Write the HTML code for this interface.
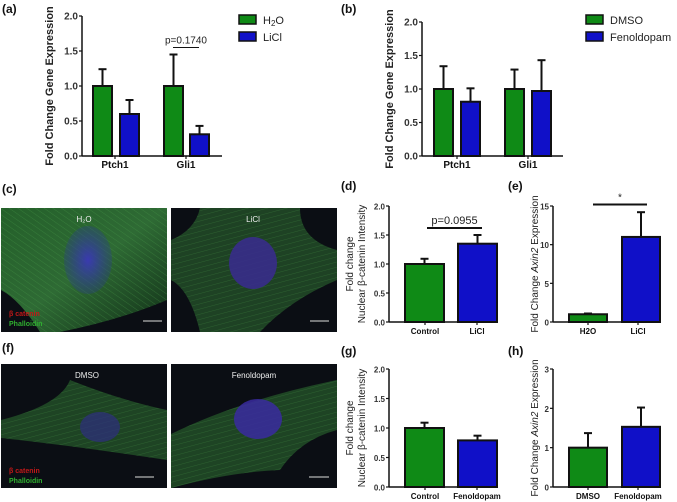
<!DOCTYPE html>
<html><head><meta charset="utf-8"><style>
body{margin:0;background:#fff;width:677px;height:502px;overflow:hidden;font-family:"Liberation Sans",Arial,sans-serif}
svg{position:absolute;left:0;top:0}
</style></head><body>
<svg id="fig" width="677" height="502">
<defs>
<radialGradient id="nuc1"><stop offset="0" stop-color="#3a3ab0"/><stop offset="1" stop-color="#2a3a90" stop-opacity="0.3"/></radialGradient>
<linearGradient id="cell1" x1="0" y1="0" x2="1" y2="1"><stop offset="0" stop-color="#24602a"/><stop offset="0.5" stop-color="#2e6a34"/><stop offset="1" stop-color="#123018"/></linearGradient>
<pattern id="fib" width="5" height="5" patternUnits="userSpaceOnUse" patternTransform="rotate(35)"><line x1="0" y1="0" x2="5" y2="0" stroke="#4aa04a" stroke-width="0.8" opacity="0.5"/></pattern>
<pattern id="fib2" width="5" height="5" patternUnits="userSpaceOnUse" patternTransform="rotate(-15)"><line x1="0" y1="0" x2="5" y2="0" stroke="#4aa04a" stroke-width="0.8" opacity="0.4"/></pattern>
</defs>
<g>
<rect x="1" y="208" width="166" height="124" fill="#0b0e14"/>
<path d="M1 208 H167 V300 Q120 320 60 332 H40 Q20 300 1 290 Z" fill="url(#cell1)"/>
<path d="M1 208 H167 V300 Q120 320 60 332 H40 Q20 300 1 290 Z" fill="url(#fib)"/>
<ellipse cx="88" cy="260" rx="24" ry="34" fill="url(#nuc1)"/>
<text x="84" y="222" fill="#eee" font-size="8" text-anchor="middle">H₂O</text>
<text x="9" y="316" fill="#c01818" font-size="7" font-weight="bold">β catenin</text>
<text x="9" y="326" fill="#30b030" font-size="7" font-weight="bold">Phalloidin</text>
<line x1="143" y1="321" x2="162" y2="321" stroke="#ddd" stroke-width="1"/>
</g>
<g>
<rect x="171" y="208" width="166" height="124" fill="#0b0e14"/>
<path d="M200 208 H300 Q300 240 337 250 V280 Q290 300 260 332 H200 Q190 290 171 280 V240 Q195 230 200 208 Z" fill="#1e4224"/>
<path d="M200 208 H300 Q300 240 337 250 V280 Q290 300 260 332 H200 Q190 290 171 280 V240 Q195 230 200 208 Z" fill="url(#fib2)"/>
<ellipse cx="253" cy="263" rx="24" ry="26" fill="#3a2a90" opacity="0.85"/>
<text x="253" y="222" fill="#eee" font-size="8" text-anchor="middle">LiCl</text>
<line x1="310" y1="321" x2="329" y2="321" stroke="#ddd" stroke-width="1"/>
</g>
<g>
<rect x="1" y="364" width="166" height="124" fill="#0b0e14"/>
<path d="M1 420 Q60 405 70 380 Q120 400 167 410 V460 Q100 450 60 445 Q20 440 1 438 Z" fill="#1e4424"/>
<path d="M1 420 Q60 405 70 380 Q120 400 167 410 V460 Q100 450 60 445 Q20 440 1 438 Z" fill="url(#fib2)"/>
<ellipse cx="100" cy="427" rx="20" ry="15" fill="#2e2e80" opacity="0.7"/>
<text x="87" y="378" fill="#eee" font-size="8" text-anchor="middle">DMSO</text>
<text x="9" y="473" fill="#c01818" font-size="7" font-weight="bold">β catenin</text>
<text x="9" y="483" fill="#30b030" font-size="7" font-weight="bold">Phalloidin</text>
<line x1="135" y1="477" x2="154" y2="477" stroke="#ddd" stroke-width="1"/>
</g>
<g>
<rect x="171" y="364" width="166" height="124" fill="#0b0e14"/>
<path d="M171 434 Q240 400 337 380 V430 Q300 440 280 470 Q230 472 171 488 Z" fill="#1e4424"/>
<path d="M171 434 Q240 400 337 380 V430 Q300 440 280 470 Q230 472 171 488 Z" fill="url(#fib2)"/>
<ellipse cx="258" cy="419" rx="24" ry="20" fill="#3a2aa0" opacity="0.85"/>
<text x="254" y="378" fill="#eee" font-size="8" text-anchor="middle">Fenoldopam</text>
<line x1="309" y1="477" x2="329" y2="477" stroke="#ddd" stroke-width="1"/>
</g>
<g font-weight="bold" font-size="12" fill="#111">
<text x="2" y="13">(a)</text>
<text x="341" y="13">(b)</text>
<text x="2" y="193">(c)</text>
<text x="341" y="190">(d)</text>
<text x="508" y="190">(e)</text>
<text x="2" y="352">(f)</text>
<text x="341" y="355">(g)</text>
<text x="508" y="355">(h)</text>
</g>
</svg>
<script>
const GREEN='#0f8a16', BLUE='#1010c8';
const aCategories=['Ptch1','Gli1'];
const aH2O=[1.0,1.0], aH2OErr=[0.24,0.45];
const aLiCl=[0.6,0.31], aLiClErr=[0.2,0.12];
const aTicks=['0.0','0.5','1.0','1.5','2.0'];
const bCategories=['Ptch1','Gli1'];
const bDMSO=[1.0,1.0], bDMSOErr=[0.34,0.29];
const bFen=[0.81,0.97], bFenErr=[0.2,0.46];
const bTicks=['0.0','0.5','1.0','1.5','2.0'];
const dCategories=['Control','LiCl'];
const dValues=[1.0,1.35], dErr=[0.09,0.15];
const dTicks=['0.0','0.5','1.0','1.5','2.0'];
const eCategories=['H2O','LiCl'];
const eValues=[1.0,11.0], eErr=[0.1,3.2];
const eTicks=['0','5','10','15'];
const gCategories=['Control','Fenoldopam'];
const gValues=[1.0,0.79], gErr=[0.09,0.08];
const gTicks=['0.0','0.5','1.0','1.5','2.0'];
const hCategories=['DMSO','Fenoldopam'];
const hValues=[1.0,1.53], hErr=[0.37,0.49];
const hTicks=['0','1','2','3'];

const svg=document.getElementById('fig');
const NS='http://www.w3.org/2000/svg';
function mk(tag,at,parent){const e=document.createElementNS(NS,tag);for(const k in at)e.setAttribute(k,at[k]);(parent||svg).appendChild(e);return e;}

function chart(p){
  const g=mk('g',{});
  
  
  const max=parseFloat(p.ticks[p.ticks.length-1]);
  const y=v=>p.y0-(v/max)*(p.y0-p.yTop);
  p.series.forEach(s=>{
    s.vals.forEach((v,i)=>{
      const x0=s.xs[i], w=s.w;
      const top=y(v+s.err[i]);
      const col=s.colors?s.colors[i]:s.color;
      const el=mk('line',{x1:x0+w/2,x2:x0+w/2,y1:y(v),y2:top,stroke:'#111','stroke-width':2},g);
      
      
      const cap=mk('line',{x1:x0+w/2-4,x2:x0+w/2+4,y1:top,y2:top,stroke:'#111','stroke-width':2},g);
      
      
      const r=mk('rect',{x:x0,y:y(v),width:w,height:p.y0-y(v),fill:col,stroke:'#111','stroke-width':2},g);
      
      
    });
  });
  const ya=mk('line',{x1:p.ax,x2:p.ax,y1:p.yTop,y2:p.y0,stroke:'#111','stroke-width':1.5},g);
  
  
  const xa=mk('line',{x1:p.ax,x2:p.xEnd,y1:p.y0,y2:p.y0,stroke:'#111','stroke-width':1.5},g);
  
  
  p.ticks.forEach(t=>{
    const yy=y(parseFloat(t));
    mk('line',{x1:p.ax-3,x2:p.ax,y1:yy,y2:yy,stroke:'#111','stroke-width':1.2},g);
    const tx=mk('text',{x:p.ax-4,y:yy+3.5,'text-anchor':'end','font-size':p.fs||10,'font-weight':'bold',fill:'#333'},g);
    tx.textContent=t;
    
    
  });
  p.cats.forEach((c,i)=>{
    const cx=p.catX[i];
    mk('line',{x1:cx,x2:cx,y1:p.y0,y2:p.y0+3,stroke:'#111','stroke-width':1.2},g);
    const tx=mk('text',{x:cx,y:p.y0+12,'text-anchor':'middle','font-size':p.fs||10,'font-weight':'bold',fill:'#111'},g);
    tx.textContent=c;
    
    
  });
  p.titles.forEach(t=>{
    const tx=mk('text',{x:0,y:0,transform:`translate(${t.x},${(p.y0+p.yTop)/2}) rotate(-90)`,'text-anchor':'middle','font-size':t.fs||11,'font-weight':t.bold?'bold':'normal',fill:'#222'},g);
    tx.innerHTML=t.html;
    
    
  });
  if(p.sig){
    const s=p.sig, yy=y(s.v);
    mk('line',{x1:s.x1,x2:s.x2,y1:yy,y2:yy,stroke:'#111','stroke-width':s.w||1},g);
    const tx=mk('text',{x:(s.x1+s.x2)/2,y:yy-4,'text-anchor':'middle','font-size':s.fs||10,fill:'#222'},g);
    tx.textContent=s.text;
    
    
  }
  return g;
}
chart({name:'chart-a',ax:82,yTop:16,y0:156,xEnd:222,ticks:aTicks,cats:aCategories,catX:[115,186],
  series:[{key:'h2o',vals:aH2O,err:aH2OErr,xs:[93,164],w:19,color:GREEN},{key:'licl',vals:aLiCl,err:aLiClErr,xs:[120,190],w:19,color:BLUE}],
  titles:[{x:53,html:'Fold Change Gene Expression',bold:true,fs:11}],sig:{v:1.55,x1:173,x2:199,text:'p=0.1740'}});
chart({name:'chart-b',ax:422,yTop:22,y0:156,xEnd:563,ticks:bTicks,cats:bCategories,catX:[457,528],
  series:[{key:'dmso',vals:bDMSO,err:bDMSOErr,xs:[434,505],w:19,color:GREEN},{key:'fenoldopam',vals:bFen,err:bFenErr,xs:[461,532],w:19,color:BLUE}],
  titles:[{x:393,html:'Fold Change Gene Expression',bold:true,fs:11}]});
chart({name:'chart-d',ax:389,yTop:206,y0:322,xEnd:498,fs:8,ticks:dTicks,cats:dCategories,catX:[425,477],
  series:[{key:'s',vals:dValues,err:dErr,xs:[405,458],w:39,colors:[GREEN,BLUE]}],
  titles:[{x:353,html:'Fold change',fs:10},{x:365,html:'Nuclear β-catenin Intensity',fs:10}],sig:{v:1.62,x1:427,x2:482,text:'p=0.0955',w:2,fs:11}});
chart({name:'chart-e',ax:553,yTop:206,y0:322,xEnd:660,fs:8,ticks:eTicks,cats:eCategories,catX:[588,638],
  series:[{key:'s',vals:eValues,err:eErr,xs:[569,622],w:38,colors:[GREEN,BLUE]}],
  titles:[{x:538,html:'Fold Change <tspan font-style="italic">Axin2</tspan> Expression',fs:10}],sig:{v:15.2,x1:593,x2:647,text:'*',w:2}});
chart({name:'chart-g',ax:389,yTop:369,y0:487,xEnd:498,fs:8,ticks:gTicks,cats:gCategories,catX:[425,477],
  series:[{key:'s',vals:gValues,err:gErr,xs:[405,458],w:39,colors:[GREEN,BLUE]}],
  titles:[{x:353,html:'Fold change',fs:10},{x:365,html:'Nuclear β-catenin Intensity',fs:10}]});
chart({name:'chart-h',ax:553,yTop:369,y0:487,xEnd:660,fs:8,ticks:hTicks,cats:hCategories,catX:[588,638],
  series:[{key:'s',vals:hValues,err:hErr,xs:[569,622],w:38,colors:[GREEN,BLUE]}],
  titles:[{x:538,html:'Fold Change <tspan font-style="italic">Axin2</tspan> Expression',fs:10}]});
function legend(x,items){
  items.forEach((it,i)=>{
    const y=15+i*17;
    const r=mk('rect',{x:x,y:y,width:17,height:9,fill:it.c,stroke:'#111','stroke-width':1.5});
    
    
    const t=mk('text',{x:x+24,y:y+9,'font-size':11,fill:'#222'});
    t.innerHTML=it.t;
    
    
  });
}
legend(239,[{c:GREEN,t:'H<tspan font-size="8" dy="2">2</tspan><tspan dy="-2">O</tspan>'},{c:BLUE,t:'LiCl'}]);
legend(586,[{c:GREEN,t:'DMSO'},{c:BLUE,t:'Fenoldopam'}]);
</script>
</body></html>
